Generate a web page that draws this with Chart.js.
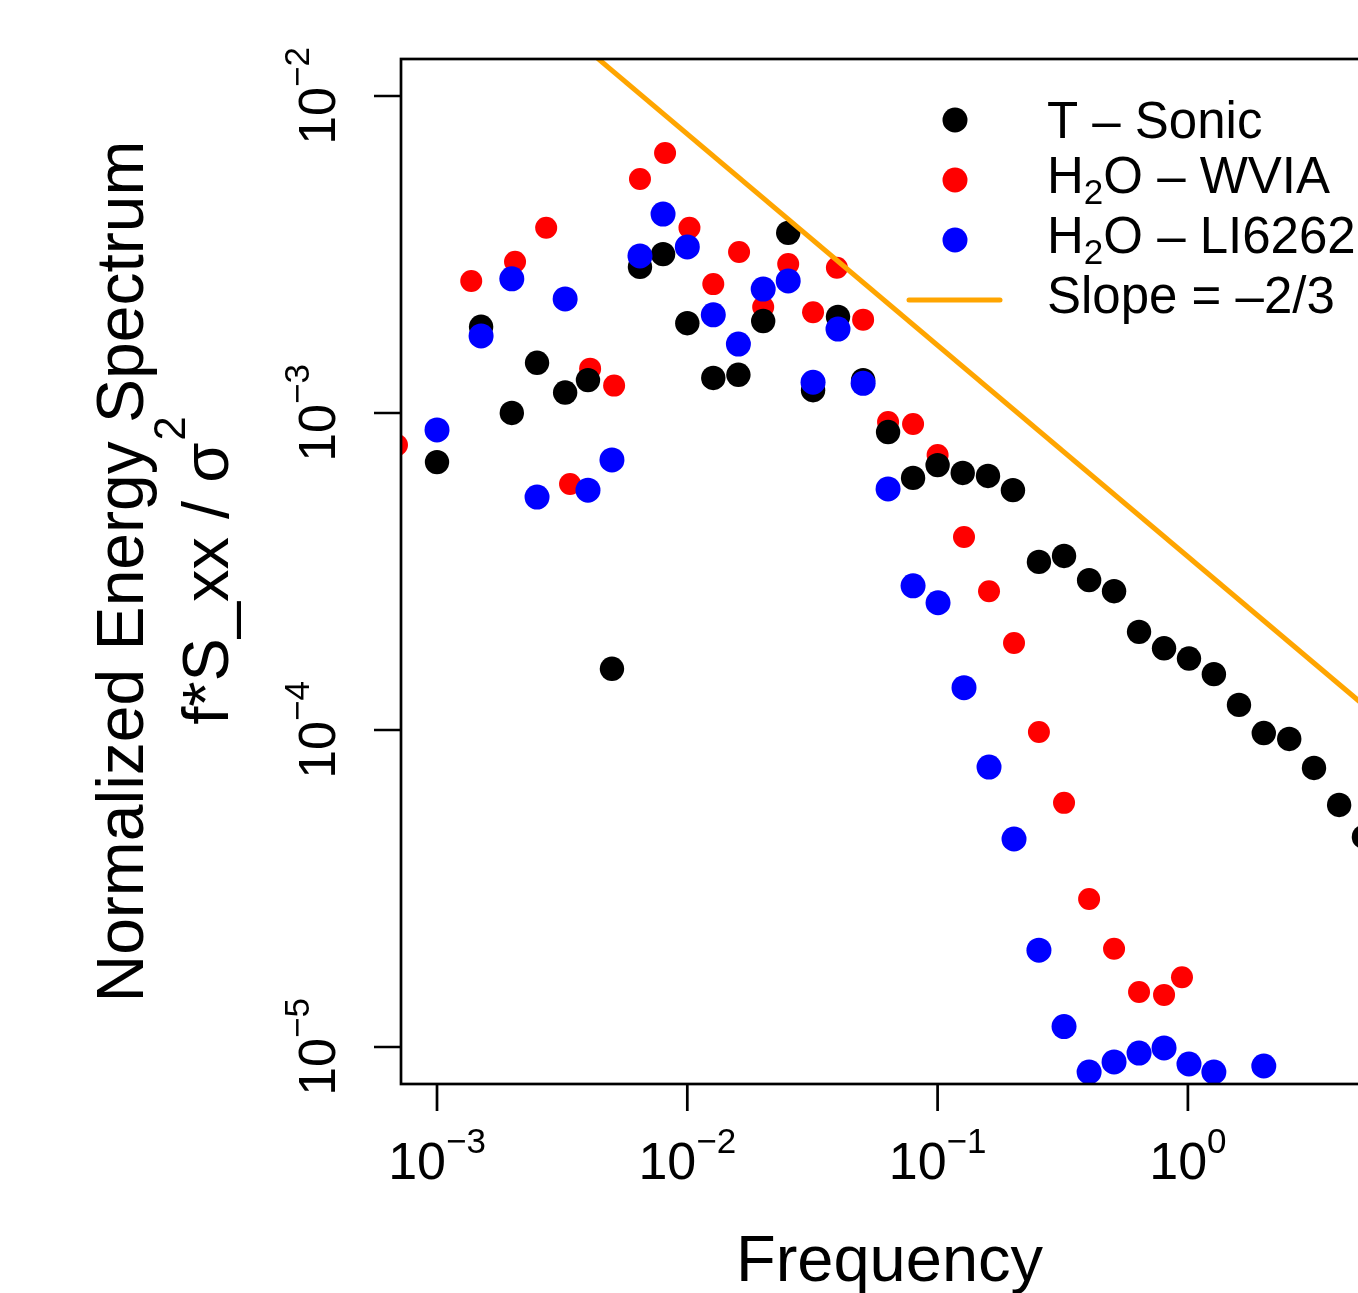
<!DOCTYPE html>
<html>
<head>
<meta charset="utf-8">
<title>Normalized Energy Spectrum</title>
<script src="https://cdn.jsdelivr.net/npm/chart.js@4.4.1/dist/chart.umd.min.js"></script>
<style>
  html, body { margin: 0; padding: 0; background: #fff; overflow: hidden; }
  canvas { display: block; }
</style>
</head>
<body>
<canvas id="spectrum" width="1400" height="1293" style="width:1400px;height:1293px"></canvas>
<script>
// T - Sonic
const sonicFreq = [0.001, 0.0015, 0.00199, 0.00251, 0.00325, 0.00401, 0.005, 0.00647, 0.008, 0.01,
    0.0127, 0.016, 0.0201, 0.0253, 0.0318, 0.04, 0.0504, 0.0634, 0.0798, 0.1,
    0.126, 0.159, 0.2, 0.254, 0.32, 0.403, 0.507, 0.638, 0.803, 1.01,
    1.27, 1.6, 2.01, 2.54, 3.19, 4.02, 5.05];
const sonicSpec = [7.0e-4, 1.87e-3, 1.0e-3, 1.44e-3, 1.16e-3, 1.27e-3, 1.56e-4, 2.89e-3, 3.17e-3, 1.92e-3,
    1.29e-3, 1.32e-3, 1.95e-3, 3.70e-3, 1.18e-3, 2.01e-3, 1.27e-3, 8.71e-4, 6.24e-4, 6.85e-4,
    6.47e-4, 6.33e-4, 5.71e-4, 3.39e-4, 3.54e-4, 2.97e-4, 2.74e-4, 2.04e-4, 1.81e-4, 1.68e-4,
    1.50e-4, 1.20e-4, 9.78e-5, 9.37e-5, 7.59e-5, 5.80e-5, 4.60e-5];

// H2O - WVIA
const wviaFreq = [0.000692, 0.00137, 0.00205, 0.00273, 0.0034, 0.00409, 0.0051, 0.00647, 0.00815, 0.0102,
    0.0127, 0.0161, 0.0201, 0.0253, 0.0318, 0.0396, 0.0504, 0.0634, 0.0798, 0.1,
    0.1275, 0.1605, 0.202, 0.254, 0.32, 0.403, 0.507, 0.638, 0.803, 0.947];
const wviaSpec = [7.93e-4, 2.61e-3, 3.0e-3, 3.84e-3, 5.97e-4, 1.38e-3, 1.22e-3, 5.47e-3, 6.61e-3, 3.84e-3,
    2.55e-3, 3.22e-3, 2.16e-3, 2.95e-3, 2.08e-3, 2.87e-3, 1.97e-3, 9.37e-4, 9.23e-4, 7.37e-4,
    4.06e-4, 2.74e-4, 1.88e-4, 9.86e-5, 5.89e-5, 2.93e-5, 2.04e-5, 1.49e-5, 1.46e-5, 1.66e-5];

// H2O - LI6262
const liFreq = [0.001, 0.0015, 0.00199, 0.00251, 0.00325, 0.00401, 0.005, 0.00647, 0.008, 0.01,
    0.0127, 0.016, 0.0201, 0.0253, 0.0318, 0.04, 0.0504, 0.0634, 0.0798, 0.1004,
    0.1275, 0.1605, 0.202, 0.254, 0.32, 0.403, 0.507, 0.638, 0.803, 1.01,
    1.27, 2.01];
const liSpec = [8.84e-4, 1.75e-3, 2.65e-3, 5.43e-4, 2.29e-3, 5.71e-4, 7.11e-4, 3.13e-3, 4.24e-3, 3.34e-3,
    2.04e-3, 1.65e-3, 2.46e-3, 2.61e-3, 1.25e-3, 1.84e-3, 1.24e-3, 5.76e-4, 2.85e-4, 2.52e-4,
    1.36e-4, 7.64e-5, 4.53e-5, 2.02e-5, 1.16e-5, 8.34e-6, 8.97e-6, 9.57e-6, 9.93e-6, 8.84e-6,
    8.34e-6, 8.71e-6];

// reference line, slope -2/3
const slopeFreq = [0.001, 10];
const slopeSpec = [0.0352, 7.59e-5];

// axis ticks
const xTickVals = [1e-3, 1e-2, 1e-1, 1];
const xTickExp = ['\u22123', '\u22122', '\u22121', '0'];
const yTickVals = [1e-5, 1e-4, 1e-3, 1e-2];
const yTickExp = ['\u22125', '\u22124', '\u22123', '\u22122'];

const FONT = '"Liberation Sans", Arial, Helvetica, sans-serif';

function toPoints(xs, ys) {
    return xs.map((x, i) => ({ x: x, y: ys[i] }));
}

// "10" with a raised exponent, centred on (x, y) along the given angle
function powLabel(ctx, x, y, angle, exp) {
    ctx.save();
    ctx.translate(x, y);
    ctx.rotate(angle);
    ctx.font = '52px ' + FONT;
    const w1 = ctx.measureText('10').width;
    ctx.font = '35px ' + FONT;
    const w2 = ctx.measureText(exp).width;
    const start = -(w1 + w2) / 2;
    ctx.font = '52px ' + FONT;
    ctx.fillText('10', start, 0);
    ctx.font = '35px ' + FONT;
    ctx.fillText(exp, start + w1, -26);
    ctx.restore();
}

// text pieces drawn one after another: [text, size, dy]
function richText(ctx, x, y, parts) {
    let cx = x;
    parts.forEach(p => {
        ctx.font = p[1] + 'px ' + FONT;
        ctx.fillText(p[0], cx, y + p[2]);
        cx += ctx.measureText(p[0]).width;
    });
    return cx - x;
}

const decorPlugin = {
    id: 'rDecor',
    afterDraw(chart) {
        const ctx = chart.ctx;
        const a = chart.chartArea;
        const xs = chart.scales.x;
        const ys = chart.scales.y;
        ctx.save();
        ctx.fillStyle = '#000';
        ctx.strokeStyle = '#000';
        ctx.textBaseline = 'alphabetic';
        ctx.textAlign = 'left';

        // box and ticks
        ctx.lineWidth = 2.7;
        ctx.strokeRect(a.left, a.top, a.right - a.left, a.bottom - a.top);
        ctx.beginPath();
        xTickVals.forEach(v => {
            const px = xs.getPixelForValue(v);
            ctx.moveTo(px, a.bottom);
            ctx.lineTo(px, a.bottom + 27);
        });
        yTickVals.forEach(v => {
            const py = ys.getPixelForValue(v);
            ctx.moveTo(a.left, py);
            ctx.lineTo(a.left - 27, py);
        });
        ctx.stroke();

        // tick labels
        xTickVals.forEach((v, i) => powLabel(ctx, xs.getPixelForValue(v), a.bottom + 95, 0, xTickExp[i]));
        yTickVals.forEach((v, i) => powLabel(ctx, a.left - 66, ys.getPixelForValue(v), -Math.PI / 2, yTickExp[i]));

        // axis titles
        ctx.font = '65px ' + FONT;
        const xt = 'Frequency';
        ctx.fillText(xt, (a.left + a.right) / 2 - ctx.measureText(xt).width / 2, 1281);

        const midY = (a.top + a.bottom) / 2;
        ctx.save();
        ctx.translate(0, midY);
        ctx.rotate(-Math.PI / 2);
        const yt1 = 'Normalized Energy Spectrum';
        ctx.font = '66px ' + FONT;
        ctx.fillText(yt1, -ctx.measureText(yt1).width / 2, 143);
        const yt2 = 'f*S_xx / \u03c3';
        ctx.font = '65px ' + FONT;
        const w2a = ctx.measureText(yt2).width;
        ctx.font = '44px ' + FONT;
        const w2b = ctx.measureText('2').width;
        const s2 = -(w2a + w2b) / 2;
        ctx.font = '65px ' + FONT;
        ctx.fillText(yt2, s2, 228);
        ctx.font = '44px ' + FONT;
        ctx.fillText('2', s2 + w2a + 2, 228 - 43);
        ctx.restore();

        // legend
        const lx = 955, tx = 1047;
        [['#000000', 120], ['#ff0000', 180], ['#0000ff', 240]].forEach(d => {
            ctx.fillStyle = d[0];
            ctx.beginPath();
            ctx.arc(lx, d[1], 12.5, 0, Math.PI * 2);
            ctx.fill();
        });
        ctx.strokeStyle = '#ffa500';
        ctx.lineWidth = 5;
        ctx.lineCap = 'round';
        ctx.beginPath();
        ctx.moveTo(909, 300);
        ctx.lineTo(1000, 300);
        ctx.stroke();

        ctx.fillStyle = '#000';
        richText(ctx, tx, 138, [['T \u2013 Sonic', 51, 0]]);
        richText(ctx, tx, 193, [['H', 51, 0], ['2', 35, 11], ['O \u2013 WVIA', 51, 0]]);
        richText(ctx, tx, 253, [['H', 51, 0], ['2', 35, 11], ['O \u2013 LI6262', 51, 0]]);
        richText(ctx, tx, 313, [['Slope = \u20132/3', 51, 0]]);
        ctx.restore();
    }
};

const ctxSpec = document.getElementById('spectrum').getContext('2d');
const spectrumChart = new Chart(ctxSpec, {
    type: 'scatter',
    data: {
        datasets: [{
            label: 'Slope = -2/3',
            type: 'line',
            data: toPoints(slopeFreq, slopeSpec),
            borderColor: '#ffa500',
            borderWidth: 5,
            pointRadius: 0,
            fill: false,
            order: 0
        }, {
            label: 'H2O - LI6262',
            data: toPoints(liFreq, liSpec),
            backgroundColor: '#0000ff',
            pointRadius: 12.5,
            pointBorderWidth: 0,
            order: 1
        }, {
            label: 'T - Sonic',
            data: toPoints(sonicFreq, sonicSpec),
            backgroundColor: '#000000',
            pointRadius: 12.2,
            pointBorderWidth: 0,
            order: 2
        }, {
            label: 'H2O - WVIA',
            data: toPoints(wviaFreq, wviaSpec),
            backgroundColor: '#ff0000',
            pointRadius: 11,
            pointBorderWidth: 0,
            order: 3
        }]
    },
    options: {
        responsive: false,
        animation: false,
        events: [],
        layout: {
            padding: { left: 401, top: 59, right: 22, bottom: 209 }
        },
        plugins: {
            legend: { display: false },
            tooltip: { enabled: false }
        },
        scales: {
            x: {
                type: 'logarithmic',
                display: false,
                bounds: 'data',
                min: 7.18e-4,
                max: 5.748
            },
            y: {
                type: 'logarithmic',
                display: false,
                bounds: 'data',
                min: 7.643e-6,
                max: 0.013082
            }
        }
    },
    plugins: [decorPlugin]
});
</script>
</body>
</html>
